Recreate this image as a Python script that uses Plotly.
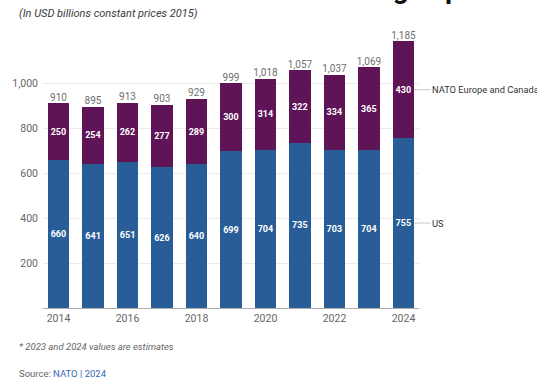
import plotly.graph_objects as go

years = [2014, 2015, 2016, 2017, 2018, 2019, 2020, 2021, 2022, 2023, 2024]
us = [660, 641, 651, 626, 640, 699, 704, 735, 703, 704, 755]
europe = [250, 254, 262, 277, 289, 300, 314, 322, 334, 365, 430]
totals = [u + e for u, e in zip(us, europe)]
series_names = ["US", "NATO Europe and Canada"]
y_ticks = [200, 400, 600, 800, 1000]

BLUE = "#285d98"
PURPLE = "#5e1457"
FONT = "Roboto"
BARGAP = 0.37

fig = go.Figure()
fig.add_trace(go.Bar(
    x=years, y=us, name=series_names[0], marker=dict(color=BLUE, line=dict(width=0)),
    text=[str(v) for v in us], textposition="inside", insidetextanchor="middle",
    textfont=dict(color="white", size=10, family=FONT, weight="bold"),
    textangle=0, hoverinfo="skip"))
fig.add_trace(go.Bar(
    x=years, y=europe, name=series_names[1], marker=dict(color=PURPLE, line=dict(width=0)),
    text=[str(v) for v in europe], textposition="inside", insidetextanchor="middle",
    textfont=dict(color="white", size=10, family=FONT, weight="bold"),
    textangle=0, hoverinfo="skip"))
fig.add_trace(go.Scatter(
    x=years, y=totals, mode="text", text=[f"{v:,}" for v in totals],
    textposition="top center", textfont=dict(color="#707070", size=10, family=FONT),
    cliponaxis=False, hoverinfo="skip", showlegend=False))

annotations = []
edge = years[-1] + (1 - BARGAP) / 2
for name, yv in [(series_names[1], us[-1] + europe[-1] / 2), (series_names[0], us[-1] / 2)]:
    annotations.append(dict(
        x=edge, y=yv, xref="x", yref="y", text=name, showarrow=True,
        arrowhead=0, arrowwidth=1, arrowcolor="#c8c8c8", ax=16, ay=0,
        xanchor="left", standoff=0, startstandoff=0,
        font=dict(size=9.3, color="#333333", family=FONT)))

annotations += [
    dict(xref="paper", yref="paper", x=-0.068, y=1.089, xanchor="left", yanchor="middle",
         text="<i>(In USD billions constant prices 2015)</i>", showarrow=False,
         font=dict(size=11, color="#3a3a3a", family=FONT)),
    dict(xref="paper", yref="paper", x=0.21, y=1.115, xanchor="left", yanchor="bottom",
         text="<b>NATO defence funding expenditure</b>", showarrow=False,
         font=dict(size=28, color="#111111", family=FONT)),
    dict(xref="paper", yref="paper", x=-0.068, y=-0.144, xanchor="left", yanchor="middle",
         text="<i>* 2023 and 2024 values are estimates</i>", showarrow=False,
         font=dict(size=9.5, color="#666666", family=FONT)),
    dict(xref="paper", yref="paper", x=-0.068, y=-0.241, xanchor="left", yanchor="middle",
         text="Source: <span style='color:#3568b8'>NATO | 2024</span>", showarrow=False,
         font=dict(size=9.5, color="#666666", family=FONT)),
]

fig.update_layout(
    width=537, height=378, barmode="stack", bargap=BARGAP,
    margin=dict(l=36, r=118, t=38, b=70),
    paper_bgcolor="white", plot_bgcolor="white", showlegend=False,
    font=dict(family=FONT),
    annotations=annotations,
    xaxis=dict(range=[2013.55, 2024.45], tickmode="array", tickvals=years[::2],
               ticktext=[str(y) for y in years[::2]], showgrid=False,
               showline=True, linecolor="#aaaaaa", linewidth=1, ticks="",
               tickfont=dict(size=10.5, color="#666666", family=FONT), fixedrange=True),
    yaxis=dict(range=[0, 1200], tickmode="array", tickvals=y_ticks,
               ticktext=[f"{v:,}" for v in y_ticks], showgrid=True, gridcolor="#ebebeb",
               zeroline=False, ticks="", tickfont=dict(size=10.5, color="#666666", family=FONT),
               ticklabelstandoff=4, fixedrange=True),
)

fig.write_html("out.html")
